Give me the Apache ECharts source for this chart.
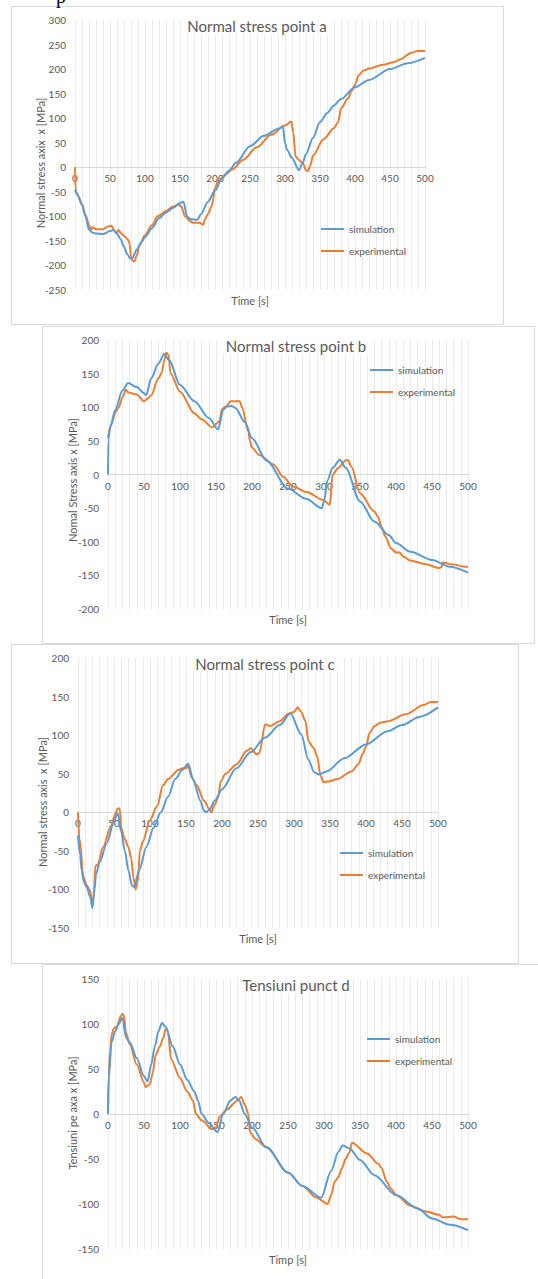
<!DOCTYPE html>
<html>
<head>
<meta charset="utf-8">
<script src="https://cdn.jsdelivr.net/npm/echarts@6/dist/echarts.min.js"></script>
<style>html,body{margin:0;padding:0;background:#fff;}#c{width:538px;height:1279px;}</style>
</head>
<body>
<div id="c"></div>
<script>
// ---- data: [time s, stress MPa] ----
const simA = [[0,-45],[3,-55],[10,-75],[15,-100],[20,-127],[25,-133],[30,-135],[40,-136],[50,-130],[55,-128],[60,-135],[65,-146],[70,-162],[75,-178],[79,-186],[82,-185],[88,-168],[95,-152],[100,-142],[110,-124],[120,-104],[130,-92],[140,-83],[150,-73],[155,-70],[160,-100],[165,-106],[175,-107],[180,-95],[190,-70],[200,-48],[210,-22],[220,-7],[230,9],[250,43],[270,64],[290,78],[297,83],[300,50],[303,35],[310,19],[320,-6],[325,8],[330,27],[340,60],[350,92],[360,110],[370,126],[380,139],[400,163],[420,178],[450,200],[475,212],[500,223]];
const expA = [[0,0],[1,-48],[5,-60],[10,-77],[15,-97],[20,-118],[23,-127],[25,-122],[30,-126],[40,-126],[48,-120],[52,-119],[56,-128],[59,-135],[62,-128],[66,-135],[72,-142],[76,-148],[78,-155],[80,-182],[82,-190],[85,-192],[88,-180],[92,-160],[100,-138],[110,-118],[118,-100],[130,-89],[140,-80],[148,-76],[152,-80],[157,-100],[165,-110],[168,-113],[178,-113],[183,-117],[186,-105],[190,-95],[195,-80],[198,-62],[199,-45],[205,-27],[215,-15],[225,-4],[240,15],[260,41],[280,66],[300,85],[309,93],[312,70],[315,22],[320,15],[326,7],[330,-6],[333,-8],[336,3],[340,24],[355,57],[370,80],[376,92],[380,120],[390,140],[395,155],[400,168],[405,187],[412,197],[420,201],[440,209],[455,214],[465,220],[480,233],[490,237],[500,237]];

const simB = [[0,0],[0.5,52],[3,70],[10,96],[20,125],[28,136],[40,130],[50,121],[53,118],[60,143],[70,165],[78,179],[85,170],[100,133],[120,109],[140,84],[153,67],[160,96],[165,101],[172,102],[177,99],[190,78],[200,54],[220,21],[250,-21],[275,-36],[297,-50],[300,-40],[305,-8],[312,10],[322,22],[330,10],[350,-40],[370,-70],[390,-90],[400,-102],[420,-115],[450,-127],[475,-137],[500,-146]];
const expB = [[0,55],[5,75],[10,92],[15,100],[20,115],[25,126],[28,122],[40,119],[50,109],[55,113],[60,118],[70,143],[75,152],[78,170],[81,181],[84,178],[87,150],[100,123],[120,91],[130,82],[145,70],[150,75],[155,80],[158,97],[165,102],[170,109],[183,109],[186,100],[195,64],[197,50],[200,40],[210,29],[230,15],[243,-3],[257,-18],[276,-26],[299,-38],[308,-45],[312,0],[320,10],[330,21],[333,22],[338,12],[350,-28],[370,-55],[375,-63],[380,-78],[385,-92],[393,-110],[400,-116],[405,-116],[410,-122],[420,-128],[440,-133],[460,-139],[463,-138],[465,-131],[480,-134],[495,-137],[500,-137]];

const simC = [[0,-30],[3,-55],[5,-75],[8,-90],[12,-97],[17,-110],[20,-124],[23,-100],[25,-80],[30,-65],[40,-40],[50,-12],[55,-1],[60,-25],[65,-50],[70,-75],[75,-95],[78,-97],[85,-75],[95,-45],[105,-20],[115,0],[125,20],[135,43],[145,55],[153,63],[160,42],[170,15],[175,2],[178,0],[182,3],[190,15],[200,30],[220,57],[240,78],[260,97],[280,113],[295,128],[310,101],[320,68],[328,52],[335,49],[345,53],[370,70],[400,88],[430,105],[450,113],[475,124],[500,136]];
const expC = [[0,0],[2,-35],[4,-45],[6,-75],[8,-85],[12,-95],[16,-100],[20,-115],[22,-110],[24,-70],[27,-68],[35,-45],[45,-20],[52,-2],[55,5],[58,5],[60,-20],[65,-35],[70,-45],[74,-60],[77,-85],[80,-100],[83,-90],[86,-50],[90,-38],[100,-10],[110,8],[118,35],[125,43],[140,55],[145,57],[150,57],[153,60],[158,45],[165,35],[175,15],[182,5],[185,0],[190,10],[195,20],[198,40],[205,50],[220,62],[235,80],[240,83],[248,75],[252,77],[260,114],[267,112],[280,118],[293,128],[300,130],[305,136],[310,130],[316,118],[320,92],[327,84],[332,73],[337,47],[341,39],[348,40],[360,43],[380,53],[390,63],[395,75],[400,85],[405,103],[412,112],[420,116],[430,118],[455,127],[480,139],[490,143],[500,143]];

const simD = [[0,0],[1,40],[5,80],[10,92],[15,100],[20,107],[25,85],[30,80],[40,62],[50,42],[55,36],[60,55],[65,75],[70,92],[75,101],[80,97],[90,75],[100,55],[110,38],[120,25],[125,15],[130,0],[140,-10],[152,-20],[160,0],[170,15],[177,19],[182,15],[190,0],[200,-15],[220,-37],[250,-65],[270,-80],[296,-93],[310,-63],[320,-42],[326,-35],[335,-38],[350,-51],[370,-68],[400,-90],[430,-105],[450,-116],[475,-123],[500,-129]];
const expD = [[0,0],[1,45],[3,70],[5,88],[8,95],[12,97],[18,109],[20,111],[22,110],[25,90],[30,78],[40,55],[50,35],[52,30],[58,33],[62,45],[66,65],[72,75],[77,85],[80,95],[83,92],[88,60],[100,40],[110,25],[118,15],[122,0],[130,-7],[145,-17],[150,-15],[155,-3],[165,5],[180,15],[185,19],[190,10],[195,0],[197,-20],[205,-28],[220,-37],[250,-65],[270,-80],[290,-93],[305,-100],[310,-90],[315,-75],[320,-70],[325,-60],[330,-50],[335,-43],[339,-32],[360,-44],[375,-55],[380,-60],[387,-75],[393,-83],[400,-90],[420,-102],[440,-108],[460,-112],[465,-115],[480,-114],[490,-117],[500,-117]];

const titles = ['Normal stress point a','Normal stress point b','Normal stress point c','Tensiuni punct d'];
const yNames = ['Normal stress axix  x [MPa]','Nomal Stress axis x [MPa]','Normal stress axis  x [MPa]','Tensiuni pe axa x [MPa]'];
const xNames = ['Time [s]','Time [s]','Time [s]','Timp [s]'];
const yRanges = [[-250,300],[-200,200],[-150,200],[-150,150]];
const seriesNames = ['simulation','experimental'];

// ---- layout ----
const FONT = 'Lato, "Open Sans", sans-serif';
const TXT = '#595959';
const grids = [
  {left:75, top:20, width:350, height:270},
  {left:108, top:340, width:360, height:269},
  {left:78, top:658, width:360, height:270},
  {left:108, top:979, width:360, height:270}
];
const boxes = [[11,6,492,318],[42,326,492,317],[11,644,507,319],[42,964,500,320]];
const titlePos = [[257,26],[296,346],[265,664],[296,985]];
const yNamePos = [[40,163],[72,480],[42,802],[72,1113]];
const xNamePos = [[250,300],[288,619],[258,938],[288,1259]];
const legendPos = [[321,224],[370,365],[340,848],[367,1034]];
const pairs = [[simA,expA],[simB,expB],[simC,expC],[simD,expD]];

const chart = echarts.init(document.getElementById('c'), null, {renderer:'svg'});
const xAxis = [], yAxis = [], series = [], legend = [], graphic = [];
grids.forEach((g, i) => {
  const r = yRanges[i];
  const zeroFromBottom = g.height * (0 - r[0]) / (r[1] - r[0]);
  xAxis.push({
    type:'value', gridIndex:i, min:0, max:500, interval:50, position:'bottom',
    offset: -zeroFromBottom,
    axisLine:{show:true, onZero:false, lineStyle:{color:'#d9d9d9', width:1}},
    axisTick:{show:false},
    axisLabel:{color:TXT, fontSize:10, fontFamily:FONT, margin:6, showMinLabel:true, showMaxLabel:true},
    splitLine:{show:true, lineStyle:{color:'#ebebeb', width:1}},
    minorTick:{show:false, splitNumber:5},
    minorSplitLine:{show:true, lineStyle:{color:'#ebebeb', width:1}}
  });
  yAxis.push({
    type:'value', gridIndex:i, min:r[0], max:r[1], interval:50,
    axisLine:{show:false}, axisTick:{show:false}, splitLine:{show:false},
    axisLabel:{color:TXT, fontSize:10, fontFamily:FONT, margin:9}
  });
  const colors = ['#5B9BD5','#ED7D31'];
  pairs[i].forEach((d, k) => {
    series.push({
      name:seriesNames[k], type:'line', xAxisIndex:i, yAxisIndex:i, data:d,
      showSymbol:false, smooth:0.3, smoothMonotone:'x',
      lineStyle:{width:2, color:colors[k]}, itemStyle:{color:colors[k]}, z: k===0?3:2
    });
  });
  legend.push({
    orient:'vertical', left:legendPos[i][0], top:legendPos[i][1], icon:'rect',
    itemWidth:23, itemHeight:2, itemGap:12, padding:0,
    textStyle:{color:TXT, fontSize:10, fontFamily:FONT},
    data:seriesNames, selectedMode:false
  });
  const b = boxes[i];
  graphic.push({type:'rect', shape:{x:b[0]+0.5, y:b[1]+0.5, width:b[2], height:b[3]}, style:{fill:'none', stroke:'#d9d9d9', lineWidth:1}, z:-10, silent:true});
  graphic.push({type:'text', x:titlePos[i][0], y:titlePos[i][1], z:100, style:{text:titles[i], align:'center', verticalAlign:'middle', fill:TXT, font:'15px '+FONT, backgroundColor:'#fff', padding:[1,3]}});
  graphic.push({type:'text', x:yNamePos[i][0], y:yNamePos[i][1], rotation:Math.PI/2, z:100, style:{text:yNames[i], align:'center', verticalAlign:'middle', fill:TXT, font:'11px '+FONT}});
  graphic.push({type:'text', x:xNamePos[i][0], y:xNamePos[i][1], z:100, style:{text:xNames[i], align:'center', verticalAlign:'middle', fill:TXT, font:'11px '+FONT}});
});
graphic.push({type:'text', x:56, y:-14, style:{text:'p', fill:'#000', font:'20px "Liberation Serif", serif'}});

chart.setOption({
  animation:false,
  backgroundColor:'#fff',
  grid: grids.map(g => Object.assign({containLabel:false}, g)),
  xAxis, yAxis, series, legend, graphic
});
</script>
</body>
</html>
